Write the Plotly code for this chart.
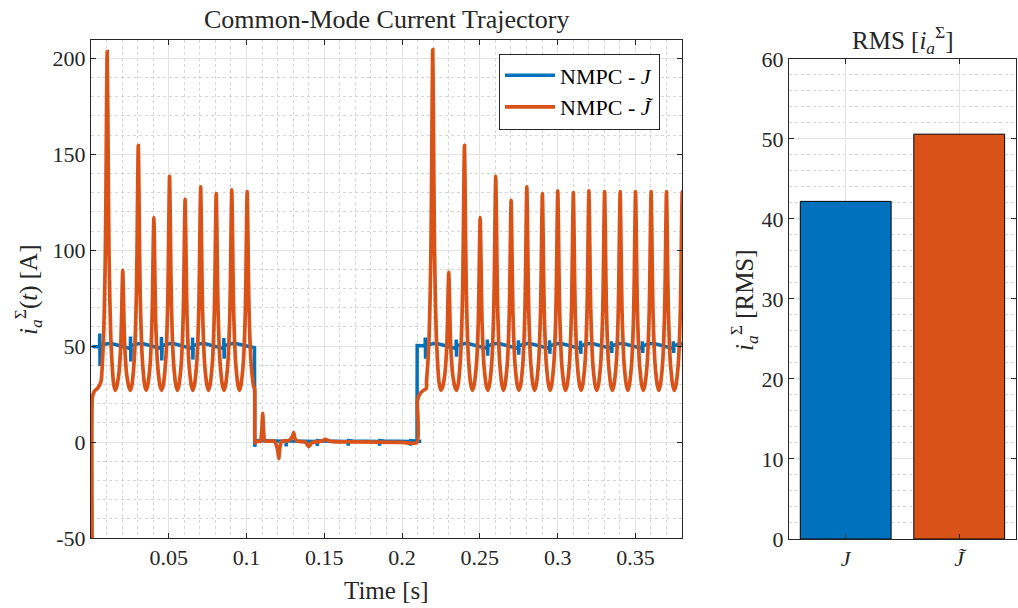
import plotly.graph_objects as go

# ---------------- data ----------------
# NMPC - J~ (orange): pulse peaks (time [s], height [A]) in the two "on" intervals
orange_peak_t_on1 = [0.0104, 0.0204, 0.0304, 0.0404, 0.0505, 0.0605, 0.0705, 0.0805, 0.0905, 0.1004]
orange_peak_v_on1 = [203.5, 89.5, 154.5, 117.0, 138.5, 126.5, 133.0, 129.5, 131.5, 130.5]
orange_peak_t_on2 = [0.2197, 0.2300, 0.2401, 0.2502, 0.2602, 0.2701, 0.2802, 0.2902, 0.3001,
                     0.3101, 0.3201, 0.3302, 0.3402, 0.3501, 0.3601, 0.3700, 0.3801]
orange_peak_v_on2 = [204.5, 88.5, 154.5, 117.0, 138.5, 126.0, 133.0, 129.5, 131.0,
                     130.0, 131.0, 130.5, 130.5, 130.5, 130.5, 130.5, 130.5]
orange_trough = 27.0
# pulse profile around each peak (offset [s], fraction of peak above trough)
pulse_dt = [-0.004, -0.003, -0.0023, -0.0017, -0.0012, -0.0008, -0.0004, 0.0,
            0.0004, 0.0008, 0.0012, 0.0017, 0.0023, 0.003, 0.004]
pulse_f = [0.025, 0.09, 0.16, 0.27, 0.40, 0.58, 0.83, 1.0,
           0.83, 0.58, 0.40, 0.27, 0.16, 0.09, 0.025]
# start of the orange trace and the "off" interval
orange_start_t = [0.0007, 0.0008, 0.0013, 0.0024, 0.0042]
orange_start_v = [-50.0, 22.5, 24.8, 26.7, 28.0]
orange_off_t = [0.1052, 0.1055, 0.1062, 0.1088, 0.1098, 0.1104, 0.1110, 0.1118, 0.1178, 0.1200,
                0.1207, 0.1214, 0.1226, 0.1272, 0.1295, 0.1303, 0.1311, 0.1326, 0.1378, 0.1400,
                0.1420, 0.1482, 0.1507, 0.1540, 0.1700, 0.2000, 0.2096, 0.2098, 0.2105, 0.2118,
                0.2135, 0.2156]
orange_off_v = [27.5, -0.5, 0.3, 0.4, 6.0, 15.0, 5.0, 0.6, 0.5, -4.0,
                -8.5, -3.0, 0.3, 0.8, 3.0, 5.0, 2.0, 0.5, 0.0, -2.4,
                -0.3, 0.5, 1.4, 0.4, 0.1, -0.2, -0.2, 21.0, 23.5, 25.5,
                26.8, 28.0]

# NMPC - J (blue): small bipolar spikes (time, upper, lower) and ripple levels
blue_spike_t_on1 = [0.0057, 0.0255, 0.0454, 0.0654, 0.0855]
blue_spike_hi_on1 = [56.6, 55.0, 54.8, 54.5, 54.3]
blue_spike_lo_on1 = [39.7, 42.0, 42.5, 43.0, 43.5]
blue_spike_t_off = [0.1254, 0.1454, 0.1653, 0.1854, 0.2053]
blue_spike_hi_off = [1.5, 1.3, 1.2, 1.0, 1.0]
blue_spike_lo_off = [-2.2, -2.0, -1.8, -1.8, -1.8]
blue_spike_t_on2 = [0.2150, 0.2349, 0.2549, 0.2749, 0.2949, 0.3148, 0.3347, 0.3546, 0.3745]
blue_spike_hi_on2 = [54.5, 53.5, 53.5, 53.0, 53.0, 52.8, 52.5, 52.5, 52.5]
blue_spike_lo_on2 = [43.5, 44.5, 45.0, 45.5, 46.0, 46.0, 46.5, 46.5, 46.5]
blue_ripple_dt = [0.0003, 0.003, 0.007, 0.019]
blue_ripple_on = [50.0, 51.0, 51.5, 48.9]
blue_ripple_off = [0.8, 0.6, 0.5, 0.3]
blue_edges_t = [0.0008, 0.1051, 0.1053, 0.1058, 0.2096, 0.2097, 0.3800]
blue_edges_v = [49.8, 49.2, -2.4, 0.8, 0.2, 50.3, 50.3]

# RMS bars
bar_labels = ["<i>J</i>", "<i>J̃</i>"]
bar_values = [42.2, 50.6]
bar_colors = ["#0072BD", "#D95319"]

BLUE = "#0072BD"
ORANGE = "#D95319"


# ---------------- assemble traces ----------------
def orange_on(peaks_t, peaks_v):
    t, v = [], []
    for i, (pt, pv) in enumerate(zip(peaks_t, peaks_v)):
        if i > 0:
            t.append((peaks_t[i - 1] + pt) / 2)
            v.append(orange_trough)
        for dt, f in zip(pulse_dt, pulse_f):
            t.append(pt + dt)
            v.append(orange_trough + (pv - orange_trough) * f)
    return t, v


ot, ov = list(orange_start_t), list(orange_start_v)
a, b = orange_on(orange_peak_t_on1, orange_peak_v_on1)
ot += a; ov += b
ot += orange_off_t; ov += orange_off_v
a, b = orange_on(orange_peak_t_on2, orange_peak_v_on2)
ot += a; ov += b


def blue_seg(spk_t, hi, lo, ripple, first_level):
    t, v = [], []
    for i, ts in enumerate(spk_t):
        t += [ts - 0.0002, ts - 0.0001, ts + 0.0001]
        v += [first_level if i == 0 else ripple[3], hi[i], lo[i]]
        nxt = spk_t[i + 1] if i + 1 < len(spk_t) else None
        for dt, lv in zip(blue_ripple_dt[:3], ripple[:3]):
            if nxt is None or ts + dt < nxt - 0.001:
                t.append(ts + dt); v.append(lv)
        if nxt is not None:
            t.append(nxt - 0.001); v.append(ripple[3])
    return t, v


bt, bv = [blue_edges_t[0]], [blue_edges_v[0]]
a, b = blue_seg(blue_spike_t_on1, blue_spike_hi_on1, blue_spike_lo_on1, blue_ripple_on, 49.6)
bt += a; bv += b
bt += blue_edges_t[1:4]; bv += blue_edges_v[1:4]
a, b = blue_seg(blue_spike_t_off, blue_spike_hi_off, blue_spike_lo_off, blue_ripple_off, 0.5)
bt += a; bv += b
bt += blue_edges_t[4:6]; bv += blue_edges_v[4:6]
a, b = blue_seg(blue_spike_t_on2, blue_spike_hi_on2, blue_spike_lo_on2, blue_ripple_on, 50.2)
bt += a; bv += b
bt += blue_edges_t[6:]; bv += blue_edges_v[6:]

FONT = "Liberation Serif"
AX = "#262626"
GRID = "#e3e3e3"
MINOR = "#d6d6d6"

fig = go.Figure()
fig.add_trace(go.Scatter(x=bt, y=bv, mode="lines", name="NMPC - <i>J</i>",
                         line=dict(color=BLUE, width=3.5), xaxis="x", yaxis="y"))
fig.add_trace(go.Scatter(x=ot, y=ov, mode="lines", name="NMPC - <i>J̃</i>",
                         line=dict(color=ORANGE, width=3.7, shape="spline", smoothing=0.6),
                         xaxis="x", yaxis="y"))
fig.add_trace(go.Bar(x=[1, 2], y=bar_values, marker=dict(color=bar_colors, line=dict(color="black", width=1)),
                     width=0.8, showlegend=False, xaxis="x2", yaxis="y2"))

common = dict(showline=True, linecolor=AX, linewidth=1, mirror="ticks", ticks="inside",
              ticklen=5, tickcolor=AX, showgrid=True, gridcolor=GRID, gridwidth=1,
              zeroline=False, automargin=False, tickfont=dict(family=FONT, size=22, color=AX))

fig.update_layout(
    width=1018, height=608, margin=dict(l=0, r=0, t=0, b=0, autoexpand=False),
    paper_bgcolor="white", plot_bgcolor="white",
    font=dict(family=FONT, size=22, color=AX),
    showlegend=True,
    legend=dict(x=0.4902, y=0.912, xanchor="left", yanchor="top", bgcolor="white",
                bordercolor=AX, borderwidth=1, font=dict(family=FONT, size=22, color="black"),
                tracegroupgap=0, itemwidth=50),
    xaxis=dict(domain=[0.0894, 0.670], anchor="y", range=[0, 0.38],
               tickvals=[0.05, 0.1, 0.15, 0.2, 0.25, 0.3, 0.35],
               ticktext=["0.05", "0.1", "0.15", "0.2", "0.25", "0.3", "0.35"],
               minor=dict(dtick=0.01, tick0=0, showgrid=True, gridcolor=MINOR, griddash="dot", ticks=""),
               **common),
    yaxis=dict(domain=[0.1151, 0.934], anchor="x", range=[-50, 209.5],
               tickvals=[-50, 0, 50, 100, 150, 200],
               ticktext=["-50", "0", "50", "100", "150", "200"],
               minor=dict(dtick=10, tick0=0, showgrid=True, gridcolor=MINOR, griddash="dot", ticks=""),
               **common),
    xaxis2=dict(domain=[0.775, 0.998], anchor="y2", range=[0.5, 2.5],
                tickvals=[1, 2], ticktext=bar_labels, **common),
    yaxis2=dict(domain=[0.1135, 0.903], anchor="x2", range=[0, 60],
                tickvals=[0, 10, 20, 30, 40, 50, 60],
                minor=dict(dtick=2, tick0=0, showgrid=True, gridcolor=MINOR, griddash="dot", ticks=""),
                **common),
)

ann = [
    dict(text="Common-Mode Current Trajectory", x=386.5 / 1018, y=1 - 19 / 608, size=26),
    dict(text="RMS [<i>i</i><sub><i>a</i></sub><sup>Σ</sup>]", x=903 / 1018, y=1 - 40 / 608, size=25),
    dict(text="Time [s]", x=386.5 / 1018, y=1 - 590 / 608, size=25),
]
for a_ in ann:
    fig.add_annotation(text=a_["text"], x=a_["x"], y=a_["y"], xref="paper", yref="paper",
                       showarrow=False, xanchor="center", yanchor="middle",
                       font=dict(family=FONT, size=a_["size"], color=AX))
fig.add_annotation(text="<i>i</i><sub><i>a</i></sub><sup>Σ</sup>(<i>t</i>) [A]", x=28 / 1018, y=1 - 290 / 608,
                   xref="paper", yref="paper", showarrow=False, textangle=-90,
                   xanchor="center", yanchor="middle", font=dict(family=FONT, size=25, color=AX))
fig.add_annotation(text="<i>i</i><sub><i>a</i></sub><sup>Σ</sup> [RMS]", x=744 / 1018, y=1 - 300 / 608,
                   xref="paper", yref="paper", showarrow=False, textangle=-90,
                   xanchor="center", yanchor="middle", font=dict(family=FONT, size=25, color=AX))

fig.write_html("out.html", config={"displayModeBar": False},
               post_script="document.body.style.margin='0';document.body.style.overflow='hidden';")
